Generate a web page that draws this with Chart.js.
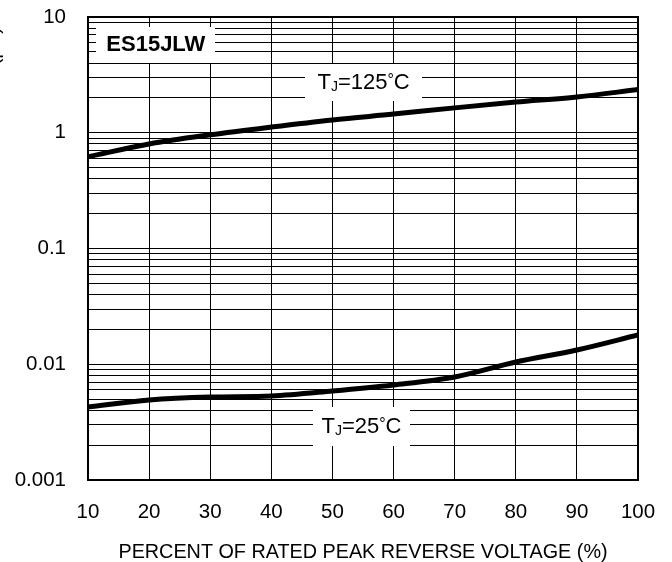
<!DOCTYPE html>
<html>
<head>
<meta charset="utf-8">
<script src="https://cdn.jsdelivr.net/npm/chart.js@4.4.1/dist/chart.umd.min.js"></script>
<style>
  html, body { margin: 0; padding: 0; background: #ffffff; }
  #wrap { width: 672px; height: 562px; }
</style>
</head>
<body>
<div id="wrap"><canvas id="chart" width="672" height="562"></canvas></div>
<script>
// Reverse leakage current vs. percent of rated peak reverse voltage
const voltagePct = [10, 20, 30, 40, 50, 60, 70, 80, 90, 100];
const current125C = [0.62, 0.80, 0.96, 1.12, 1.29, 1.45, 1.64, 1.84, 2.04, 2.36];
const current25C = [0.00427, 0.00491, 0.00521, 0.00532, 0.00587, 0.00662, 0.00776, 0.01045, 0.01328, 0.0179];

const xTickValues = [10, 20, 30, 40, 50, 60, 70, 80, 90, 100];
const yDecades = [0.001, 0.01, 0.1, 1, 10];
const yTickLabels = ['0.001', '0.01', '0.1', '1', '10'];
const yMinorMultipliers = [2, 3, 4, 5, 6, 7, 8, 9];

const xTitle = 'PERCENT OF RATED PEAK REVERSE VOLTAGE (%)';
const yTitle = 'INSTANTANEOUS REVERSE CURRENT (\u03bcA)';
const partName = 'ES15JLW';

const FONT = '"Liberation Sans", Arial, Helvetica, sans-serif';
const INK = '#000000';

// Text labels placed in data coordinates, drawn on white patches over the grid
const notes = [
  { parts: [{ t: partName, size: 22, bold: true }], x: 21.1, y: 5.7, w: 119, h: 36 },
  { parts: [{ t: 'T', size: 22 }, { t: 'J', size: 14, dy: 5 }, { t: '=125', size: 22 }, { t: '\u00b0', size: 16, dy: -2 }, { t: 'C', size: 22 }], x: 55.1, y: 2.72, w: 117, h: 37 },
  { parts: [{ t: 'T', size: 22 }, { t: 'J', size: 14, dy: 5 }, { t: '=25', size: 22 }, { t: '\u00b0', size: 16, dy: -2 }, { t: 'C', size: 22 }], x: 54.75, y: 0.0029, w: 97, h: 39 }
];

const notesPlugin = {
  id: 'notes',
  afterDatasetsDraw(chart) {
    const { ctx, scales } = chart;
    ctx.save();
    notes.forEach(n => {
      const cx = scales.x.getPixelForValue(n.x);
      const cy = scales.y.getPixelForValue(n.y);
      ctx.fillStyle = '#ffffff';
      ctx.fillRect(Math.round(cx - n.w / 2), Math.round(cy - n.h / 2), n.w, n.h);
      let total = 0;
      n.parts.forEach(p => {
        ctx.font = (p.bold ? 'bold ' : '') + p.size + 'px ' + FONT;
        p.width = ctx.measureText(p.t).width;
        total += p.width;
      });
      let px = cx - total / 2;
      ctx.fillStyle = INK;
      ctx.textBaseline = 'middle';
      ctx.textAlign = 'left';
      n.parts.forEach(p => {
        ctx.font = (p.bold ? 'bold ' : '') + p.size + 'px ' + FONT;
        ctx.fillText(p.t, px, cy + (p.dy || 0));
        px += p.width;
      });
    });
    ctx.restore();
  },
  afterDraw(chart) {
    const { ctx, chartArea: a } = chart;
    ctx.save();
    // plot frame
    ctx.strokeStyle = INK;
    ctx.lineWidth = 2;
    ctx.strokeRect(a.left, a.top, a.right - a.left, a.bottom - a.top);
    // vertical axis title, running off the left edge of the page
    ctx.translate(-1, 27);
    ctx.rotate(-Math.PI / 2);
    ctx.font = '20px ' + FONT;
    ctx.fillStyle = INK;
    ctx.textAlign = 'right';
    ctx.textBaseline = 'alphabetic';
    ctx.fillText(yTitle, 0, 0);
    ctx.restore();
  }
};

const yAllTicks = [];
yDecades.forEach((d, i) => {
  yAllTicks.push(d);
  if (i < yDecades.length - 1) yMinorMultipliers.forEach(m => yAllTicks.push(m * d));
});

new Chart(document.getElementById('chart'), {
  type: 'line',
  data: {
    labels: voltagePct,
    datasets: [
      { label: 'TJ=125\u00b0C', data: voltagePct.map((v, i) => ({ x: v, y: current125C[i] })) },
      { label: 'TJ=25\u00b0C', data: voltagePct.map((v, i) => ({ x: v, y: current25C[i] })) }
    ]
  },
  options: {
    responsive: false,
    animation: false,
    devicePixelRatio: 1,
    layout: { padding: { top: 17, right: 34, left: 0, bottom: 0 } },
    elements: {
      line: { borderColor: INK, borderWidth: 5, cubicInterpolationMode: 'monotone', borderCapStyle: 'butt' },
      point: { radius: 0, hoverRadius: 0 }
    },
    plugins: { legend: { display: false }, tooltip: { enabled: false } },
    scales: {
      x: {
        type: 'linear',
        min: 10, max: 100,
        afterFit(s) { s.height = 82; s.paddingLeft = 0; s.paddingRight = 0; s.paddingTop = 0; s.paddingBottom = 0; },
        afterBuildTicks(s) { s.ticks = xTickValues.map(v => ({ value: v })); },
        grid: { color: INK, lineWidth: 1, drawTicks: false },
        border: { display: false },
        ticks: { color: INK, font: { family: FONT, size: 20.5 }, padding: 20, maxRotation: 0, callback: v => String(v) },
        title: { display: true, text: xTitle, color: INK, font: { family: FONT, size: 19.8, lineHeight: 1 }, padding: { top: 0, bottom: 0 } }
      },
      y: {
        type: 'logarithmic',
        min: 0.001, max: 10,
        afterFit(s) { s.width = 88; s.paddingLeft = 0; s.paddingRight = 0; s.paddingTop = 0; s.paddingBottom = 0; },
        afterBuildTicks(s) { s.ticks = yAllTicks.map(v => ({ value: v })); },
        grid: { color: INK, lineWidth: 1, drawTicks: false },
        border: { display: false },
        ticks: {
          color: INK, font: { family: FONT, size: 20.5 }, padding: 22, autoSkip: false,
          callback: v => {
            const k = yDecades.findIndex(d => Math.abs(d - v) / d < 1e-6);
            return k >= 0 ? yTickLabels[k] : '';
          }
        }
      }
    }
  },
  plugins: [notesPlugin]
});
</script>
</body>
</html>
